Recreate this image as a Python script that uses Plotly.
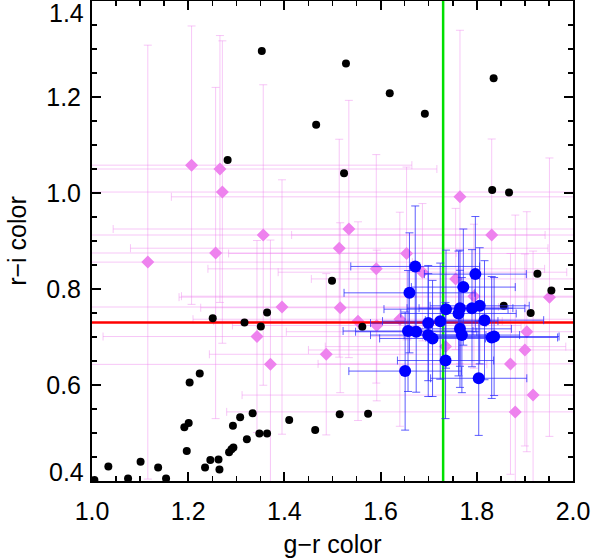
import plotly.graph_objects as go

# ---------------- data ----------------
# black points (no error bars)
BLACK_GR = [1.005, 1.034, 1.075, 1.101, 1.1375, 1.154, 1.192, 1.201, 1.197, 1.203, 1.224,
            1.235, 1.246, 1.263, 1.265, 1.285, 1.290, 1.294, 1.293, 1.308, 1.322, 1.334,
            1.348, 1.364, 1.410, 1.464, 1.251, 1.317, 1.351, 1.364, 1.499, 1.562, 1.515,
            1.574, 1.856, 1.912, 1.926, 1.955, 1.353, 1.466, 1.282, 1.528, 1.619, 1.692,
            1.835, 1.524, 1.832, 1.867]
BLACK_RI = [0.402, 0.430, 0.405, 0.440, 0.428, 0.405, 0.512, 0.521, 0.4625, 0.605, 0.624,
            0.428, 0.444, 0.445, 0.424, 0.460, 0.466, 0.470, 0.515, 0.533, 0.487, 0.541,
            0.499, 0.499, 0.527, 0.506, 0.739, 0.730, 0.722, 0.751, 0.817, 0.7215, 0.539,
            0.540, 0.765, 0.750, 0.832, 0.797, 1.296, 1.142, 1.069, 1.270, 1.208, 1.165,
            1.239, 1.041, 1.006, 1.001]

# violet diamonds with error bars
VIOLET_GR = [1.116, 1.207, 1.266, 1.271, 1.257, 1.356, 1.343, 1.371, 1.395, 1.487,
             1.514, 1.516, 1.534, 1.553, 1.591, 1.592, 1.640, 1.654, 1.687, 1.735,
             1.756, 1.765, 1.794, 1.831, 1.870, 1.880, 1.900, 1.904, 1.917, 1.951]
VIOLET_RI = [0.856, 1.058, 1.050, 1.002, 0.875, 0.9125, 0.701, 0.643, 0.7625, 0.664,
             0.885, 0.761, 0.925, 0.733, 0.842, 0.724, 0.737, 0.874, 0.835, 0.680,
             0.821, 0.992, 0.785, 0.9125, 0.644, 0.544, 0.673, 0.711, 0.579, 0.783]
VIOLET_GR_ERR = [0.55, 0.458, 0.451, 0.75, 0.50, 0.586, 0.32, 0.45, 0.45, 0.243,
                 0.434, 0.29, 0.49, 0.30, 0.35, 0.30, 0.43, 0.37, 0.30, 0.25,
                 0.30, 0.60, 0.608, 0.416, 0.40, 0.60, 0.45, 0.50, 0.605, 0.77]
VIOLET_RI_ERR = [0.452, 0.29, 0.278, 0.315, 0.345, 0.313, 0.20, 0.259, 0.265, 0.168,
                 0.227, 0.177, 0.268, 0.207, 0.238, 0.157, 0.223, 0.18, 0.143, 0.15,
                 0.147, 0.347, 0.15, 0.20, 0.23, 0.41, 0.20, 0.25, 0.30, 0.29]

# blue points with error bars
BLUE_GR = [1.672, 1.660, 1.797, 1.772, 1.736, 1.765, 1.762, 1.790, 1.806, 1.816, 1.699, 1.724,
           1.657, 1.674, 1.699, 1.708, 1.765, 1.769, 1.831, 1.836, 1.735, 1.651, 1.804]
BLUE_RI = [0.847, 0.792, 0.831, 0.804, 0.758, 0.760, 0.749, 0.760, 0.765, 0.735, 0.729, 0.733,
           0.7125, 0.711, 0.704, 0.697, 0.717, 0.704, 0.699, 0.701, 0.651, 0.629, 0.614]
BLUE_GR_ERR = [0.134, 0.136, 0.106, 0.108, 0.129, 0.110, 0.120, 0.110, 0.103, 0.123, 0.120, 0.120,
               0.135, 0.126, 0.120, 0.110, 0.107, 0.120, 0.137, 0.135, 0.100, 0.117, 0.100]
BLUE_RI_ERR = [0.126, 0.125, 0.120, 0.121, 0.123, 0.121, 0.130, 0.122, 0.121, 0.124, 0.120, 0.121,
               0.126, 0.126, 0.128, 0.121, 0.122, 0.120, 0.127, 0.123, 0.121, 0.123, 0.119]

# reference cuts
GR_CUT = 1.73
RI_CUT = 0.73

X_RANGE = [1.0, 2.0]
Y_RANGE = [0.4, 1.4]
X_TICKS = [1.0, 1.2, 1.4, 1.6, 1.8, 2.0]
Y_TICKS = [0.4, 0.6, 0.8, 1.0, 1.2, 1.4]
Y_INNER = Y_TICKS[1:-1]          # labelled by the axis itself
Y_EDGE = [Y_TICKS[0], Y_TICKS[-1]]  # end labels nudged inside the figure

# ---------------- figure ----------------
FONT = "Liberation Sans, Arial, Helvetica, sans-serif"
FS = 25
fig = go.Figure()

fig.add_trace(go.Scatter(
    x=VIOLET_GR, y=VIOLET_RI, mode="markers",
    marker=dict(symbol="diamond", size=10, color="#EE82EE"),
    error_x=dict(type="data", array=VIOLET_GR_ERR, color="rgba(238,130,238,0.45)", thickness=1, width=4),
    error_y=dict(type="data", array=VIOLET_RI_ERR, color="rgba(238,130,238,0.45)", thickness=1, width=4),
    showlegend=False, hoverinfo="skip"))

fig.add_trace(go.Scatter(
    x=X_RANGE, y=[RI_CUT, RI_CUT], mode="lines",
    line=dict(color="#FF0000", width=2.5), showlegend=False, hoverinfo="skip"))
fig.add_trace(go.Scatter(
    x=[GR_CUT, GR_CUT], y=Y_RANGE, mode="lines",
    line=dict(color="#00E000", width=2.5), showlegend=False, hoverinfo="skip"))

fig.add_trace(go.Scatter(
    x=BLACK_GR, y=BLACK_RI, mode="markers",
    marker=dict(symbol="circle", size=8, color="black"),
    showlegend=False, hoverinfo="skip"))

fig.add_trace(go.Scatter(
    x=BLUE_GR, y=BLUE_RI, mode="markers",
    marker=dict(symbol="circle", size=12, color="#0000FF"),
    error_x=dict(type="data", array=BLUE_GR_ERR, color="rgba(40,40,255,0.75)", thickness=1, width=4),
    error_y=dict(type="data", array=BLUE_RI_ERR, color="rgba(40,40,255,0.75)", thickness=1, width=4),
    showlegend=False, hoverinfo="skip"))

axis_common = dict(
    showline=True, linecolor="black", linewidth=2, mirror="allticks",
    ticks="inside", ticklen=9, tickwidth=2, tickcolor="black",
    showgrid=False, zeroline=False, tickformat=".1f", automargin=False,
    ticklabeloverflow="allow",
    tickfont=dict(family=FONT, size=FS, color="black"),
    minor=dict(ticks="inside", ticklen=5, tickwidth=1.5, tickcolor="black", showgrid=False, dtick=0.05),
)

fig.update_layout(
    template="none",
    width=591, height=559,
    margin=dict(l=92, r=18, t=1, b=78),
    paper_bgcolor="white", plot_bgcolor="white",
    font=dict(family=FONT, color="black"),
    hovermode=False,
    xaxis=dict(range=X_RANGE, tickmode="array", tickvals=X_TICKS,
               title=dict(text="g\u2212r color", font=dict(family=FONT, size=FS), standoff=11),
               ticklabelstandoff=7, **axis_common),
    yaxis=dict(range=Y_RANGE, tickmode="array", tickvals=Y_INNER,
               title=dict(text="r\u2212i color", font=dict(family=FONT, size=FS), standoff=12),
               ticklabelstandoff=4, **axis_common),
)

# end labels of the y axis, kept inside the frame height as in the original
for v, shift in zip(Y_EDGE, [9, -12]):
    fig.add_annotation(x=0, xref="paper", y=v, yref="y", text=f"{v:.1f}",
                       showarrow=False, xanchor="right", yanchor="middle",
                       xshift=-6, yshift=shift,
                       font=dict(family=FONT, size=FS, color="black"))

fig.write_html("out.html", config={"displayModeBar": False, "staticPlot": True},
               post_script="document.body.style.margin='0px';document.body.style.overflow='hidden';")
